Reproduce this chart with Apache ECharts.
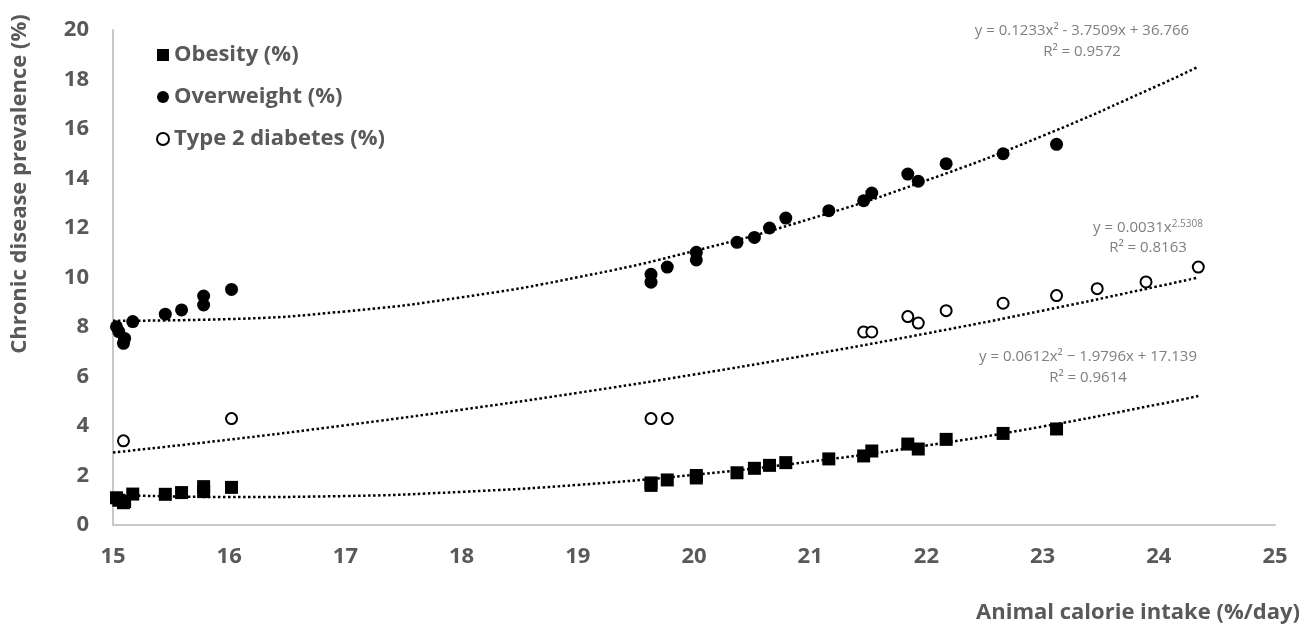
<!DOCTYPE html>
<html>
<head>
<meta charset="utf-8">
<script src="https://cdn.jsdelivr.net/npm/echarts@6/dist/echarts.min.js"></script>
<style>html,body{margin:0;padding:0;background:#fff}#c{width:1314px;height:632px}</style>
</head>
<body>
<div id="c"></div>
<script>
// ---- data ----
const xIntake = [15.03,15.05,15.09,15.10,15.17,15.45,15.59,15.78,15.78,16.02,19.63,19.63,19.77,20.02,20.02,20.37,20.52,20.65,20.79,21.16,21.46,21.53,21.84,21.93,22.17,22.66,23.12];
const obesity = [1.10,1.00,0.90,0.95,1.25,1.24,1.31,1.55,1.35,1.52,1.70,1.60,1.82,2.00,1.90,2.11,2.29,2.41,2.52,2.67,2.79,2.99,3.27,3.07,3.46,3.70,3.88];
const overweight = [8.01,7.81,7.34,7.54,8.22,8.52,8.69,8.89,9.25,9.52,10.13,9.81,10.42,11.02,10.71,11.42,11.62,12.00,12.40,12.70,13.10,13.41,14.18,13.89,14.60,15.00,15.38];
const xDiabetes = [15.09,16.02,19.63,19.77,21.46,21.53,21.84,21.93,22.17,22.66,23.12,23.47,23.89,24.34];
const diabetes = [3.40,4.30,4.30,4.30,7.80,7.80,8.42,8.16,8.66,8.96,9.27,9.55,9.82,10.42];
// trendlines
const xTrend = [15,16,17,18,19,20,21,22,23,24,24.34];
const trendOverweight = [8.25,8.32,8.63,9.20,10.01,11.07,12.37,13.92,15.72,17.77,18.52];
const trendObesity = [1.22,1.13,1.17,1.34,1.62,2.03,2.56,3.21,3.98,4.88,5.21];
const trendDiabetes = [2.93,3.45,4.03,4.66,5.34,6.08,6.88,7.74,8.66,9.65,10.00];
const xTicks = [15,25,1];
const yTicks = [0,20,2];
const names = ['Obesity (%)','Overweight (%)','Type 2 diabetes (%)'];

const pair = (xs, ys) => xs.map((x,i)=>[x, ys[i]]);
const FONT = '"Open Sans", sans-serif';
const GREY = '#595959';
const EQ = '#7f7f7f';
const trendStyle = {color:'#000', width:2.5, type:[2.5,2.5]};

const chart = echarts.init(document.getElementById('c'), null, {renderer:'canvas'});
chart.setOption({
  animation:false,
  backgroundColor:'#fff',
  grid:{left:113, right:39, top:30, bottom:107},
  legend:{
    data:names, orient:'vertical', left:151, top:38, itemGap:18,
    itemWidth:12, itemHeight:12,
    textStyle:{fontFamily:FONT, fontSize:22, fontWeight:'bold', color:GREY, lineHeight:24}
  },
  xAxis:{
    type:'value', min:xTicks[0], max:xTicks[1], interval:xTicks[2],
    axisLine:{show:true, lineStyle:{color:'#c8c8c8', width:2}},
    axisTick:{show:false}, splitLine:{show:false},
    axisLabel:{fontFamily:FONT, fontSize:22, fontWeight:'bold', color:GREY, margin:21}
  },
  yAxis:{
    type:'value', min:yTicks[0], max:yTicks[1], interval:yTicks[2],
    axisLine:{show:true, lineStyle:{color:'#c8c8c8', width:2}},
    axisTick:{show:false}, splitLine:{show:false},
    axisLabel:{fontFamily:FONT, fontSize:22, fontWeight:'bold', color:GREY, margin:24}
  },
  series:[
    {type:'line', data:pair(xTrend, trendOverweight), smooth:true, showSymbol:false, symbol:'none', lineStyle:trendStyle, z:1, silent:true},
    {type:'line', data:pair(xTrend, trendDiabetes), smooth:true, showSymbol:false, symbol:'none', lineStyle:trendStyle, z:1, silent:true},
    {type:'line', data:pair(xTrend, trendObesity), smooth:true, showSymbol:false, symbol:'none', lineStyle:trendStyle, z:1, silent:true},
    {name:names[0], type:'scatter', data:pair(xIntake, obesity), symbol:'rect', symbolSize:13, itemStyle:{color:'#000', opacity:1}, z:3},
    {name:names[1], type:'scatter', data:pair(xIntake, overweight), symbol:'circle', symbolSize:13, itemStyle:{color:'#000', opacity:1}, z:3},
    {name:names[2], type:'scatter', data:pair(xDiabetes, diabetes), symbol:'circle', symbolSize:11, itemStyle:{color:'#fff', borderColor:'#000', borderWidth:2, opacity:1}, z:3}
  ],
  graphic:[
    {type:'text', x:20, y:184, rotation:Math.PI/2, style:{text:'Chronic disease prevalence (%)', font:'bold 22px '+FONT, fill:GREY, align:'center', verticalAlign:'middle'}},
    {type:'text', x:1300, y:613, style:{text:'Animal calorie intake (%/day)', font:'bold 22px '+FONT, fill:GREY, align:'right', verticalAlign:'middle'}},
    {type:'text', x:1082, y:31, style:{text:'y = 0.1233x² - 3.7509x + 36.766', font:'15px '+FONT, fill:EQ, align:'center', verticalAlign:'middle'}},
    {type:'text', x:1082, y:52, style:{text:'R² = 0.9572', font:'15px '+FONT, fill:EQ, align:'center', verticalAlign:'middle'}},
    {type:'text', x:1148, y:228, style:{text:'y = 0.0031x{s|2.5308}', font:'15px '+FONT, fill:EQ, align:'center', verticalAlign:'middle',
       rich:{s:{fontSize:10, fontFamily:FONT, fill:EQ, verticalAlign:'top', padding:[0,0,8,0]}}}},
    {type:'text', x:1148, y:248, style:{text:'R² = 0.8163', font:'15px '+FONT, fill:EQ, align:'center', verticalAlign:'middle'}},
    {type:'text', x:1088, y:357, style:{text:'y = 0.0612x² − 1.9796x + 17.139', font:'15px '+FONT, fill:EQ, align:'center', verticalAlign:'middle'}},
    {type:'text', x:1088, y:378, style:{text:'R² = 0.9614', font:'15px '+FONT, fill:EQ, align:'center', verticalAlign:'middle'}}
  ]
});
</script>
</body>
</html>
